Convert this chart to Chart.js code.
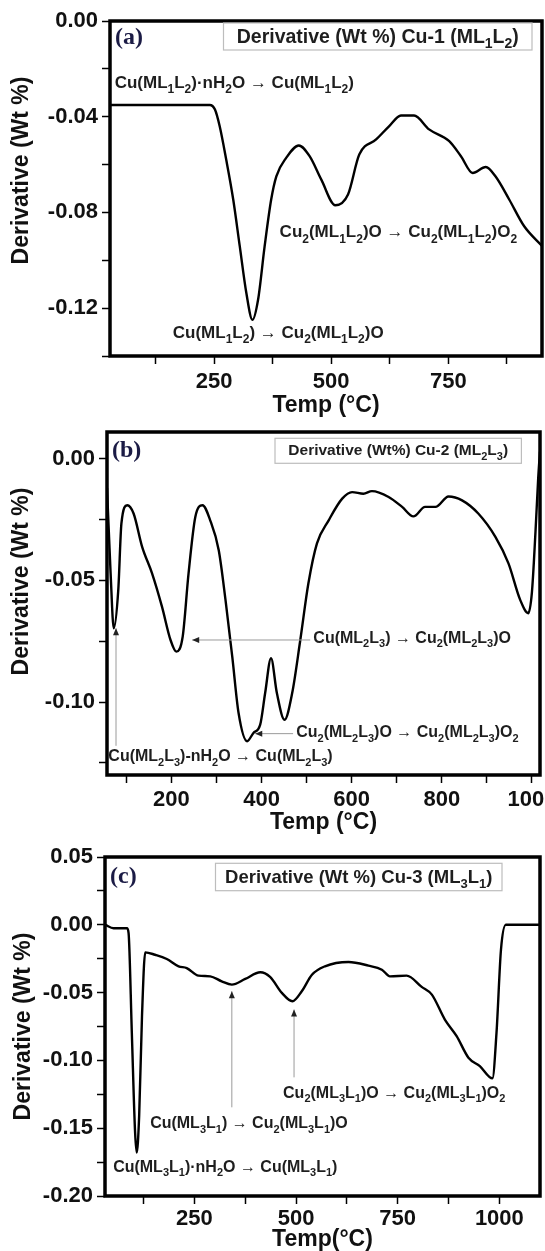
<!DOCTYPE html>
<html>
<head>
<meta charset="utf-8">
<script src="https://cdn.jsdelivr.net/npm/chart.js@4.4.1/dist/chart.umd.min.js"></script>
<style>
  html, body { margin: 0; padding: 0; background: #fff; }
  body { width: 545px; height: 1251px; position: relative; overflow: hidden; }
  .panel { position: absolute; left: 0; width: 545px; }
</style>
</head>
<body>
<div class="panel" style="top:0;height:425px"><canvas id="chartA"></canvas></div>
<div class="panel" style="top:425px;height:420px"><canvas id="chartB"></canvas></div>
<div class="panel" style="top:845px;height:406px"><canvas id="chartC"></canvas></div>
<script>
// (a) Cu-1 (ML1L2)
const tempA  = [28, 241, 252, 262, 276, 291, 305, 319, 332, 344, 358, 372, 383, 404, 431, 454, 479, 509, 536, 560, 596, 624, 649, 677, 709, 752, 777, 802, 830, 851, 880, 912, 950];
const derivA = [-0.0351, -0.0351, -0.037, -0.0439, -0.0579, -0.0746, -0.0942, -0.1137, -0.1249, -0.1165, -0.0942, -0.0746, -0.0649, -0.0572, -0.052, -0.0565, -0.0663, -0.077, -0.0725, -0.0558, -0.0495, -0.0439, -0.0395, -0.0395, -0.0453, -0.0502, -0.0565, -0.0635, -0.061, -0.065, -0.0746, -0.0858, -0.094];
const xTicksA = [125, 250, 375, 500, 625, 750, 875];
const xLabelsA = [250, 500, 750];
const yTicksA = [0, -0.02, -0.04, -0.06, -0.08, -0.10, -0.12, -0.14];
const yLabelsA = [0, -0.04, -0.08, -0.12];

// (b) Cu-2 (ML2L3)
const tempB  = [57, 65, 72, 82, 89, 102, 116, 135, 157, 179, 198, 211, 225, 238, 253, 269, 286, 305, 320, 335, 349, 368, 382, 397, 408, 421, 434, 451, 468, 486, 504, 523, 549, 579, 601, 626, 645, 682, 712, 737, 763, 786, 815, 845, 881, 919, 948, 974, 992, 1000, 1008, 1014, 1018];
const derivB = [-0.012, -0.047, -0.0697, -0.054, -0.0266, -0.0191, -0.0225, -0.0362, -0.0471, -0.0608, -0.0745, -0.0793, -0.0731, -0.0471, -0.0239, -0.0191, -0.0253, -0.0376, -0.058, -0.0813, -0.1045, -0.1161, -0.1127, -0.1093, -0.0963, -0.082, -0.0963, -0.1073, -0.0963, -0.0745, -0.0512, -0.0348, -0.0253, -0.0164, -0.0137, -0.0144, -0.0133, -0.0157, -0.0198, -0.0237, -0.0198, -0.0198, -0.0155, -0.0171, -0.0225, -0.0321, -0.043, -0.058, -0.0635, -0.055, -0.03, -0.008, 0.003];
const xTicksB = [100, 200, 300, 400, 500, 600, 700, 800, 900, 1000];
const xLabelsB = [200, 400, 600, 800, 1000];
const yTicksB = [0, -0.025, -0.05, -0.075, -0.10, -0.125];
const yLabelsB = [0, -0.05, -0.10];

// (c) Cu-3 (ML3L1)
const tempC  = [31, 51, 84, 88, 96, 104, 108, 114, 121, 129, 153, 182, 211, 231, 260, 289, 317, 342, 375, 412, 436, 465, 491, 514, 539, 571, 629, 678, 711, 731, 772, 809, 834, 866, 895, 924, 952, 983, 993, 1004, 1016, 1100];
const derivC = [0, -0.0025, -0.0025, -0.0061, -0.0797, -0.153, -0.168, -0.141, -0.0674, -0.0203, -0.0221, -0.0252, -0.0306, -0.0319, -0.0375, -0.038, -0.0417, -0.0441, -0.0399, -0.035, -0.0384, -0.0502, -0.0564, -0.049, -0.0368, -0.0306, -0.0274, -0.0301, -0.0331, -0.038, -0.0375, -0.0458, -0.0515, -0.0699, -0.0821, -0.098, -0.1042, -0.1132, -0.0797, -0.0184, 0, 0];
const xTicksC = [125, 250, 375, 500, 625, 750, 875, 1000];
const xLabelsC = [250, 500, 750, 1000];
const yTicksC = [0.05, 0.025, 0, -0.025, -0.05, -0.075, -0.10, -0.125, -0.15, -0.175, -0.20];
const yLabelsC = [0.05, 0, -0.05, -0.10, -0.15, -0.20];

// text notes, placed in data coordinates (temp, derivative); "_" marks a subscript
const notesA = [
  { text: 'Cu(ML_1L_2)·nH_2O → Cu(ML_1L_2)', x: 38, y: -0.0254 },
  { text: 'Cu_2(ML_1L_2)O → Cu_2(ML_1L_2)O_2', x: 390, y: -0.0879 },
  { text: 'Cu(ML_1L_2) → Cu_2(ML_1L_2)O', x: 162, y: -0.1298 }
];
const notesB = [
  { text: 'Cu(ML_2L_3) → Cu_2(ML_2L_3)O', x: 515, y: -0.0732 },
  { text: 'Cu_2(ML_2L_3)O → Cu_2(ML_2L_3)O_2', x: 477, y: -0.112 },
  { text: 'Cu(ML_2L_3)-nH_2O → Cu(ML_2L_3)', x: 60, y: -0.122 }
];
const notesC = [
  { text: 'Cu_2(ML_3L_1)O → Cu_2(ML_3L_1)O_2', x: 468, y: -0.1232 },
  { text: 'Cu(ML_3L_1) → Cu_2(ML_3L_1)O', x: 141, y: -0.1456 },
  { text: 'Cu(ML_3L_1)·nH_2O → Cu(ML_3L_1)', x: 50, y: -0.1777 }
];
const arrowsB = [
  { from: [508, -0.0745], to: [246, -0.0745] },
  { from: [470, -0.113], to: [386, -0.113] },
  { from: [77, -0.118], to: [77, -0.0697] }
];
const arrowsC = [
  { from: [342, -0.1346], to: [342, -0.049] },
  { from: [495, -0.1125], to: [495, -0.0625] }
];

const SANS = "'Liberation Sans', Arial, sans-serif";
const SERIF = "'Liberation Serif', 'Times New Roman', serif";

function richParts(str) {
  const parts = [];
  for (let i = 0; i < str.length; i++) {
    if (str[i] === '_') { parts.push({ t: str[i + 1], sub: true }); i++; continue; }
    const last = parts[parts.length - 1];
    if (last && !last.sub) last.t += str[i];
    else parts.push({ t: str[i], sub: false });
  }
  return parts;
}

function richWidth(ctx, str, size) {
  let w = 0;
  for (const p of richParts(str)) {
    ctx.font = `bold ${p.sub ? Math.round(size * 0.7) : size}px ${SANS}`;
    w += ctx.measureText(p.t).width;
  }
  return w;
}

// x = left edge, y = vertical middle of the capitals
function drawRich(ctx, str, x, y, size, color) {
  ctx.fillStyle = color;
  ctx.textAlign = 'left';
  ctx.textBaseline = 'alphabetic';
  const base = y + size * 0.36;
  let cx = x;
  for (const p of richParts(str)) {
    ctx.font = `bold ${p.sub ? Math.round(size * 0.7) : size}px ${SANS}`;
    ctx.fillText(p.t, cx, p.sub ? base + size * 0.3 : base);
    cx += ctx.measureText(p.t).width;
  }
}

function arrow(ctx, x1, y1, x2, y2) {
  ctx.strokeStyle = '#9a9a9a';
  ctx.lineWidth = 1;
  ctx.beginPath(); ctx.moveTo(x1, y1); ctx.lineTo(x2, y2); ctx.stroke();
  const ang = Math.atan2(y2 - y1, x2 - x1), len = 7, half = 3;
  ctx.fillStyle = '#222';
  ctx.beginPath();
  ctx.moveTo(x2, y2);
  ctx.lineTo(x2 - len * Math.cos(ang) + half * Math.sin(ang), y2 - len * Math.sin(ang) - half * Math.cos(ang));
  ctx.lineTo(x2 - len * Math.cos(ang) - half * Math.sin(ang), y2 - len * Math.sin(ang) + half * Math.cos(ang));
  ctx.closePath(); ctx.fill();
}

const decorate = {
  id: 'decorate',
  afterDatasetsDraw(chart, args, o) {
    const { ctx, chartArea: a, scales: { x, y } } = chart;
    ctx.save();
    // frame
    ctx.strokeStyle = '#000';
    ctx.lineWidth = 3.5;
    ctx.strokeRect(a.left, a.top, a.right - a.left, a.bottom - a.top);
    // arrows
    for (const ar of o.arrows) {
      arrow(ctx, x.getPixelForValue(ar.from[0]), y.getPixelForValue(ar.from[1]),
                 x.getPixelForValue(ar.to[0]), y.getPixelForValue(ar.to[1]));
    }
    // notes
    for (const n of o.notes) {
      drawRich(ctx, n.text, x.getPixelForValue(n.x), y.getPixelForValue(n.y), o.noteSize, '#1e1e1e');
    }
    // panel letter
    ctx.font = `bold ${o.letterSize}px ${SERIF}`;
    ctx.fillStyle = '#1b1b45';
    ctx.textAlign = 'left';
    ctx.textBaseline = 'middle';
    ctx.fillText(o.letter, a.left + 5, a.top + o.letterDy);
    // y axis title, a little above the middle in some panels
    ctx.save();
    ctx.translate(o.yTitleX, (a.top + a.bottom) / 2 + o.yTitleDy);
    ctx.rotate(-Math.PI / 2);
    ctx.font = `bold 23px ${SANS}`;
    ctx.fillStyle = '#111';
    ctx.textAlign = 'center';
    ctx.textBaseline = 'middle';
    ctx.fillText('Derivative (Wt %)', 0, 0);
    ctx.restore();
    // legend box
    const lb = o.legendBox;
    const bx1 = a.left + lb.left, bx2 = a.right - lb.right, by1 = a.top + lb.top, by2 = by1 + lb.h;
    ctx.fillStyle = '#fff';
    ctx.fillRect(bx1, by1, bx2 - bx1, by2 - by1);
    ctx.strokeStyle = '#bdbdbd';
    ctx.lineWidth = 1.2;
    ctx.strokeRect(bx1, by1, bx2 - bx1, by2 - by1);
    const label = chart.data.datasets[0].label;
    const tw = richWidth(ctx, label, lb.size);
    drawRich(ctx, label, (bx1 + bx2) / 2 - tw / 2, (by1 + by2) / 2 - 1, lb.size, '#1e1e1e');
    ctx.restore();
  }
};

function fmt(v) { return v.toFixed(2); }

function makePanel(id, temps, values, label, c) {
  return new Chart(document.getElementById(id), {
    type: 'line',
    data: {
      datasets: [{
        label: label,
        data: temps.map((t, i) => ({ x: t, y: values[i] })),
        borderColor: '#000',
        borderWidth: 2.4,
        pointRadius: 0,
        cubicInterpolationMode: 'monotone',
        fill: false
      }]
    },
    options: {
      responsive: true,
      maintainAspectRatio: false,
      animation: false,
      layout: { padding: { top: c.top, right: c.right, left: 0, bottom: 0 } },
      plugins: { legend: { display: false }, tooltip: { enabled: false }, decorate: c },
      scales: {
        x: {
          type: 'linear', min: c.xMin, max: c.xMax,
          afterBuildTicks: s => { s.ticks = c.xTicks.map(v => ({ value: v })); },
          afterFit: s => { s.height = c.xAxisH; s.paddingLeft = 0; s.paddingRight = 0; },
          ticks: {
            autoSkip: false, maxRotation: 0, padding: c.xTickPad, color: '#111',
            font: { family: SANS, size: 22, weight: 'bold' },
            callback: v => c.xLabels.includes(v) ? String(v) : ''
          },
          grid: { drawOnChartArea: false, drawTicks: true, tickLength: 8, tickWidth: 1.5, tickColor: '#000' },
          border: { display: false },
          title: {
            display: true, text: c.xTitle, color: '#111',
            font: { family: SANS, size: 23, weight: 'bold', lineHeight: 1.0 },
            padding: { top: 0, bottom: c.xTitlePad }
          }
        },
        y: {
          type: 'linear', min: c.yMin, max: c.yMax,
          afterBuildTicks: s => { s.ticks = c.yTicks.map(v => ({ value: v })); },
          afterFit: s => { s.width = c.left; s.paddingTop = 0; s.paddingBottom = 0; },
          ticks: {
            autoSkip: false, padding: 4, color: '#111',
            font: { family: SANS, size: 22, weight: 'bold' },
            callback: v => {
              const m = c.yLabels.find(l => Math.abs(l - v) < 1e-9);
              return m === undefined ? '' : fmt(m);
            }
          },
          grid: { drawOnChartArea: false, drawTicks: true, tickLength: 8, tickWidth: 1.5, tickColor: '#000' },
          border: { display: false },
          title: { display: false }
        }
      }
    },
    plugins: [decorate]
  });
}

makePanel('chartA', tempA, derivA, 'Derivative (Wt %) Cu-1 (ML_1L_2)', {
  xMin: 28, xMax: 950, yMin: -0.14, yMax: 0,
  xTicks: xTicksA, xLabels: xLabelsA, yTicks: yTicksA, yLabels: yLabelsA,
  top: 21, right: 3, left: 110, xAxisH: 69, xTitle: 'Temp (°C)', xTitlePad: 8, xTickPad: 5,
  yTitleX: 22, yTitleDy: -18,
  notes: notesA, arrows: [], noteSize: 17,
  letter: '(a)', letterSize: 24, letterDy: 17,
  legendBox: { left: 113.5, right: 10, top: 2, h: 27, size: 19.5 }
});

makePanel('chartB', tempB, derivB, 'Derivative (Wt%) Cu-2 (ML_2L_3)', {
  xMin: 57, xMax: 1018, yMin: -0.13, yMax: 0.011,
  xTicks: xTicksB, xLabels: xLabelsB, yTicks: yTicksB, yLabels: yLabelsB,
  top: 7, right: 5, left: 107, xAxisH: 70, xTitle: 'Temp (°C)', xTitlePad: 11, xTickPad: 4,
  yTitleX: 22, yTitleDy: -22,
  notes: notesB, arrows: arrowsB, noteSize: 16,
  letter: '(b)', letterSize: 24, letterDy: 19,
  legendBox: { left: 168, right: 18.6, top: 6.3, h: 25, size: 15.5 }
});

makePanel('chartC', tempC, derivC, 'Derivative (Wt %) Cu-3 (ML_3L_1)', {
  xMin: 30, xMax: 1100, yMin: -0.20, yMax: 0.05,
  xTicks: xTicksC, xLabels: xLabelsC, yTicks: yTicksC, yLabels: yLabelsC,
  top: 12, right: 5, left: 105, xAxisH: 55, xTitle: 'Temp(°C)', xTitlePad: 0, xTickPad: 2,
  yTitleX: 24, yTitleDy: 0,
  notes: notesC, arrows: arrowsC, noteSize: 16,
  letter: '(c)', letterSize: 24, letterDy: 20,
  legendBox: { left: 110.5, right: 38, top: 6.3, h: 27.4, size: 18.5 }
});
</script>
</body>
</html>
